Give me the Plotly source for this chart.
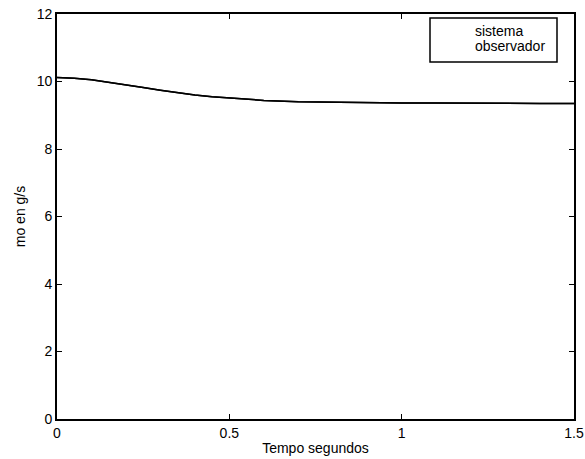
import plotly.graph_objects as go

# Time (s) and mass flow (g/s) for the plant and the observer estimate
tiempo = [0.0, 0.05, 0.1, 0.15, 0.2, 0.25, 0.3, 0.35, 0.4, 0.45, 0.5, 0.55,
          0.6, 0.7, 0.8, 0.9, 1.0, 1.1, 1.2, 1.3, 1.4, 1.5]
sistema = [10.12, 10.10, 10.05, 9.98, 9.90, 9.82, 9.74, 9.66, 9.60, 9.55, 9.51, 9.47,
           9.44, 9.40, 9.38, 9.37, 9.36, 9.36, 9.35, 9.35, 9.35, 9.35]
observador = [10.12, 10.10, 10.05, 9.98, 9.90, 9.82, 9.74, 9.66, 9.60, 9.55, 9.51, 9.47,
              9.44, 9.40, 9.38, 9.37, 9.36, 9.36, 9.35, 9.35, 9.35, 9.35]

x_ticks = [0, 0.5, 1, 1.5]
x_labels = ["0", "0.5", "1", "1.5"]
y_ticks = [0, 2, 4, 6, 8, 10, 12]
legend_names = ["sistema", "observador"]

FONT = dict(family="Liberation Sans, Arial, sans-serif", size=14, color="black")

# Plot area in pixels (left, right, top, bottom)
L, R, T, B = 57, 574, 14, 419
W = R - L
H = B - T

fig = go.Figure()
fig.add_trace(go.Scatter(x=tiempo, y=sistema, mode="lines", name=legend_names[0],
                         line=dict(color="black", width=1.5)))
fig.add_trace(go.Scatter(x=tiempo, y=observador, mode="lines", name=legend_names[1],
                         line=dict(color="black", width=1.5)))

axis_common = dict(showgrid=False, zeroline=False, showline=True, linecolor="black",
                   linewidth=1.6, mirror="ticks", ticks="inside", ticklen=5,
                   tickcolor="black", tickwidth=1, tickfont=FONT, automargin=False,
                   ticklabeloverflow="allow")

fig.update_xaxes(range=[0, 1.5], tickvals=x_ticks, ticktext=x_labels,
                 title=dict(text="Tempo segundos", font=FONT, standoff=4),
                 **axis_common)
fig.update_yaxes(range=[0, 12], tickvals=y_ticks,
                 title=dict(text="mo en g/s", font=FONT, standoff=8),
                 **axis_common)

# Legend box in the upper right corner
fig.add_shape(type="rect", xref="paper", yref="paper",
              x0=(430 - L) / W, x1=(557 - L) / W,
              y0=(B - 62) / H, y1=(B - 18) / H,
              line=dict(color="black", width=1.5), fillcolor="white")
for i, name in enumerate(legend_names):
    fig.add_annotation(xref="paper", yref="paper", x=(473 - L) / W,
                       y=(B - (31 + 15 * i)) / H, text=name, showarrow=False,
                       xanchor="left", yanchor="middle", font=FONT)

fig.update_layout(width=585, height=459, showlegend=False,
                  margin=dict(l=L, r=585 - R, t=T, b=459 - B),
                  paper_bgcolor="white", plot_bgcolor="white", font=FONT)

fig.write_html("out.html")
